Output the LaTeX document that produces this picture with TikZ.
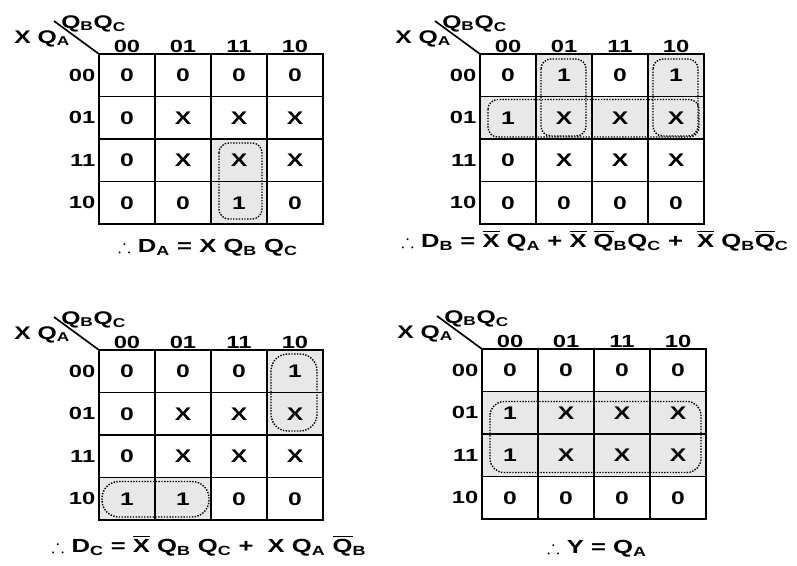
\documentclass[tikz,border=0pt]{standalone}
\usepackage{amsmath,amssymb}
\usepackage{fontspec}
\setmainfont{Liberation Sans}[FakeStretch=1.35]
\usetikzlibrary{backgrounds}
\newcommand{\nbar}[1]{$\overline{\mbox{#1}}$}
% one Karnaugh map, drawn with its top left corner at the origin of the scope
\newcommand{\kmap}[2]{%
  \foreach \vals [count=\row from 0] in {#2} {
    \foreach \v [count=\col from 0] in \vals
      \node[cell] (#1-\row\col) at ({28+56*\col},{21.25+42.5*\row}) {\v};
  }
  \foreach \lab [count=\i from 0] in {00,01,11,10} {
    \node[head,anchor=base] (#1-c\i) at ({28+56*\i},-2) {\lab};
    \node[head,anchor=east] (#1-r\i) at (-2,{21.25+42.5*\i}) {\lab};
  }
  \foreach \i in {1,2,3} {
    \draw[inner] (56*\i,0) -- (56*\i,170);
    \draw[inner] (0,42.5*\i) -- (224,42.5*\i);
  }
  \draw[outer] (#1-00.north west) rectangle (#1-33.south east);
  \draw[inner] (#1-00.north west) -- ++(-45,-33);
  \node[corner,anchor=base west] (#1-top) at (-38,-26) {Q\textsubscript{B}Q\textsubscript{C}};
  \node[corner,anchor=base west] (#1-left) at (-85,-11) {X Q\textsubscript{A}};
}

\begin{document}
\begin{tikzpicture}[x=0.025cm,y=-0.025cm,
    cell/.style={minimum width=1.4cm,minimum height=1.0625cm,inner sep=0pt,
      outer sep=0pt,font=\fontsize{13}{15}\selectfont\bfseries},
    head/.style={inner sep=1pt,font=\fontsize{12.5}{14}\selectfont\bfseries},
    corner/.style={inner sep=0pt,font=\fontsize{13}{15}\selectfont\bfseries},
    result/.style={inner sep=0pt,anchor=base,font=\fontsize{13.5}{16}\selectfont\bfseries},
    inner/.style={line width=1.2pt},
    outer/.style={line width=2pt},
    grp/.style={densely dotted,line width=1pt,rounded corners=7pt},
    hl/.style={fill=gray!18}
  ]
  \useasboundingbox (0,0) rectangle (797,566);

  % D_A
  \begin{scope}[shift={(99,54)}]
    \kmap{m1}{{0,0,0,0},{0,X,X,X},{0,X,X,X},{0,0,1,0}}
    \node[result] (eqa) at (109,198)
      {$\therefore$ D\textsubscript{A} = X Q\textsubscript{B} Q\textsubscript{C}};
  \end{scope}
  \begin{scope}[on background layer]
    \fill[hl] (m1-22.north west) rectangle (m1-32.south east);
  \end{scope}
  \draw[grp] ([shift={(8,4)}]m1-22.north west) rectangle ([shift={(-5,-5)}]m1-32.south east);

  % D_B
  \begin{scope}[shift={(480,54)}]
    \kmap{m2}{{0,1,0,1},{1,X,X,X},{0,X,X,X},{0,0,0,0}}
    \node[result] (eqb) at (115,193)
      {$\therefore$ D\textsubscript{B} = \nbar{X} Q\textsubscript{A} + \nbar{X} \nbar{Q}\textsubscript{B}Q\textsubscript{C} + \ \nbar{X} Q\textsubscript{B}\nbar{Q}\textsubscript{C}};
  \end{scope}
  \begin{scope}[on background layer]
    \fill[hl] (m2-01.north west) rectangle (m2-11.south east);
    \fill[hl] (m2-03.north west) rectangle (m2-13.south east);
    \fill[hl] (m2-10.north west) rectangle (m2-13.south east);
  \end{scope}
  \draw[grp] ([shift={(5,5)}]m2-01.north west) rectangle ([shift={(-6,-3)}]m2-11.south east);
  \draw[grp] ([shift={(5,5)}]m2-03.north west) rectangle ([shift={(-6,-3)}]m2-13.south east);
  \draw[grp] ([shift={(8,3)}]m2-10.north west) rectangle ([shift={(-5,-2)}]m2-13.south east);

  % D_C
  \begin{scope}[shift={(99,350)}]
    \kmap{m3}{{0,0,0,1},{0,X,X,X},{0,X,X,X},{1,1,0,0}}
    \node[result] (eqc) at (110,202)
      {$\therefore$ D\textsubscript{C} = \nbar{X} Q\textsubscript{B} Q\textsubscript{C} + \ X Q\textsubscript{A} \nbar{Q}\textsubscript{B}};
  \end{scope}
  \begin{scope}[on background layer]
    \fill[hl] (m3-03.north west) rectangle (m3-13.south east);
    \fill[hl] (m3-30.north west) rectangle (m3-31.south east);
  \end{scope}
  \draw[grp,rounded corners=12pt] ([shift={(4,4)}]m3-03.north west) rectangle ([shift={(-6,-4)}]m3-13.south east);
  \draw[grp,rounded corners=12pt] ([shift={(3,4)}]m3-30.north west) rectangle ([shift={(-2,-3)}]m3-31.south east);

  % Y
  \begin{scope}[shift={(482,349)}]
    \kmap{m4}{{0,0,0,0},{1,X,X,X},{1,X,X,X},{0,0,0,0}}
    \node[result] (eqy) at (115,204)
      {$\therefore$ Y = Q\textsubscript{A}};
  \end{scope}
  \begin{scope}[on background layer]
    \fill[hl] (m4-10.north west) rectangle (m4-23.south east);
  \end{scope}
  \draw[grp,rounded corners=10pt] ([shift={(8,10)}]m4-10.north west) rectangle ([shift={(-5,-4)}]m4-23.south east);
\end{tikzpicture}
\end{document}
